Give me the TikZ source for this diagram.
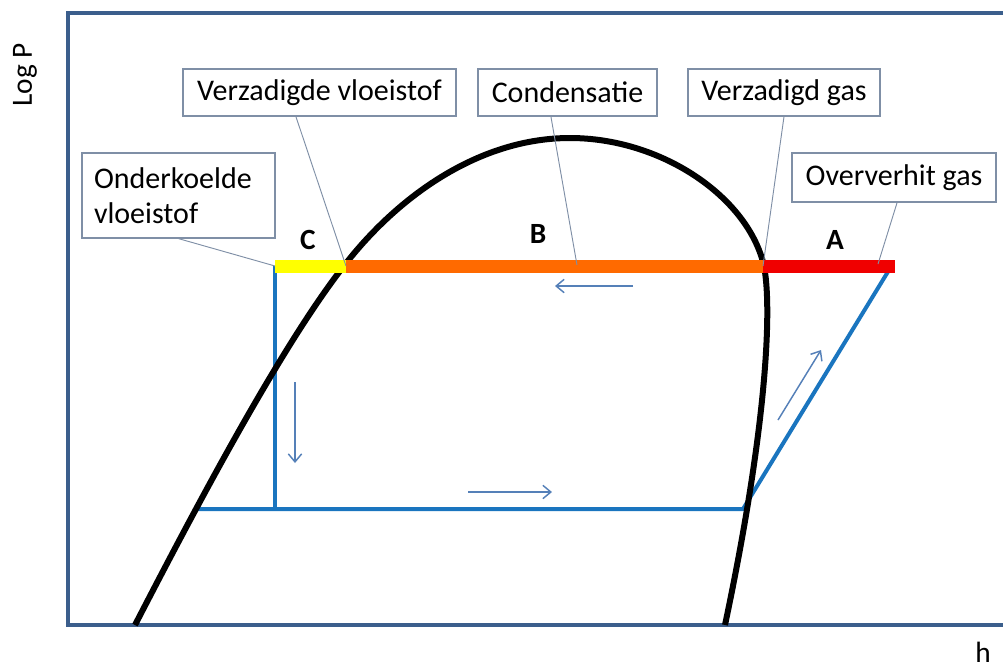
\documentclass[tikz,border=0pt]{standalone}
\usepackage{fontspec}
\setmainfont{Carlito}
\usetikzlibrary{arrows.meta,calc}
\definecolor{frameblue}{HTML}{3B5E8C}
\definecolor{cycblue}{HTML}{1A75BF}
\definecolor{arrblue}{HTML}{5580B8}
\definecolor{boxgray}{HTML}{7F8FA6}
\definecolor{barorange}{HTML}{FF6A00}
\definecolor{barred}{HTML}{F00000}
\definecolor{baryellow}{HTML}{FFFF00}
\tikzset{
  lbl/.style={draw=boxgray, line width=0.9pt, fill=white, font=\fontsize{22.5}{26}\selectfont, inner sep=0pt, align=center},
  leader/.style={draw=boxgray, line width=0.7pt},
  cyc/.style={draw=cycblue, line width=3pt},
  flow/.style={draw=arrblue, line width=1.1pt, -{Straight Barb[length=6pt,width=10pt,line width=1.1pt]}},
  bar/.style={line width=9.75pt},
  letter/.style={font=\fontsize{22}{24}\selectfont\bfseries},
  axis/.style={font=\fontsize{22}{24}\selectfont}
}
\begin{document}
\begin{tikzpicture}[x=0.75pt,y=-0.75pt]
\useasboundingbox (0,0) rectangle (1003,669);
% frame
\draw[frameblue, line width=3pt] (1010,13) -- (68,13) -- (68,625) -- (1010,625);
% axis labels
\node[axis, rotate=90] (logp) at (25,75) {Log P};
\node[axis] (hax) at (983,652) {h};
% points
\coordinate (p1) at (275,266);
\coordinate (p2) at (346,266);
\coordinate (p3) at (763,266);
\coordinate (p4) at (895,266);
\coordinate (p5) at (275,509);
\coordinate (p6) at (195,509);
\coordinate (p7) at (743,509);
\coordinate (p8) at (889,270);
% cycle
\draw[cyc] (p1) -- (p5);
\draw[cyc, line join=miter] (p6) -- (p7) -- (p8);
% saturation dome
\draw[black, line width=4.5pt] (135,625) .. controls (195,509) and (283,342) .. (347,262)
  .. controls (400,195) and (480,138) .. (570,138)
  .. controls (660,138) and (745,195) .. (763,262)
  .. controls (772,296) and (770,412) .. (725,625);
% bar
\draw[bar, baryellow] (p1) -- (p2);
\draw[bar, barorange] (p2) -- (p3);
\draw[bar, barred] (p3) -- (p4);
% letters
\node[letter] (lc) at (308,240) {C};
\node[letter] (lb) at (538,234) {B};
\node[letter] (la) at (835,240) {A};
% flow arrows
\coordinate (f1s) at (633,286); \coordinate (f1e) at (555,286);
\coordinate (f2s) at (295,382); \coordinate (f2e) at (295,463);
\coordinate (f3s) at (468,492); \coordinate (f3e) at (552,492);
\coordinate (f4s) at (778,420); \coordinate (f4e) at (821,350);
\draw[flow] (f1s) -- (f1e);
\draw[flow] (f2s) -- (f2e);
\draw[flow] (f3s) -- (f3e);
\draw[flow] (f4s) -- (f4e);
% label boxes
\node[lbl, minimum width=204.75pt, minimum height=35.25pt] (vv) at (319.5,92.5) {Verzadigde vloeistof};
\node[lbl, minimum width=134.25pt, minimum height=35.25pt] (cond) at (567.5,92.5) {Condensatie};
\node[lbl, minimum width=144pt, minimum height=35.25pt] (vg) at (784,92.5) {Verzadigd gas};
\node[lbl, minimum width=153pt, minimum height=36.75pt] (og) at (894,177.5) {Oververhit gas};
\node[lbl, align=left, text width=126.75pt, inner xsep=9pt, minimum height=63.75pt] (ov) at (178.5,195.5) {Onderkoelde\\vloeistof};
% leaders
\coordinate (t2) at (577,265);
\coordinate (t4) at (878,264);
\draw[leader] (ov.south) -- (p1);
\draw[leader] ($(vv.south west)!0.414!(vv.south east)$) -- (p2);
\draw[leader] ($(cond.south west)!0.408!(cond.south east)$) -- (t2);
\draw[leader] (vg.south) -- (p3);
\draw[leader] ($(og.south west)!0.515!(og.south east)$) -- (t4);
\end{tikzpicture}
\end{document}
